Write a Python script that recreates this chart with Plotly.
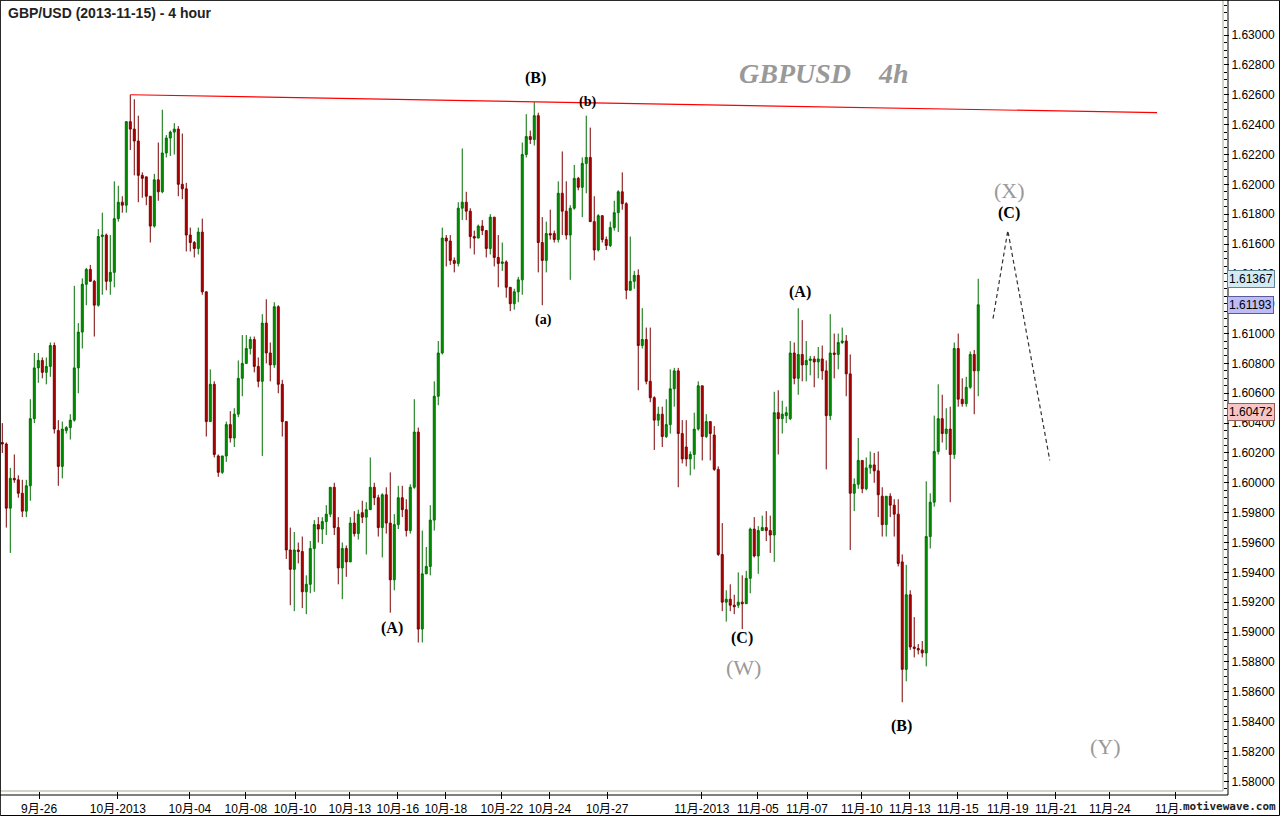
import plotly.graph_objects as go

# ---------------- data ----------------
opens = [
 1.6027,1.6026,1.5983,1.6003,1.6002,1.5993,1.5981,1.5998,1.6043,1.6077,
 1.6082,1.6074,1.6078,1.6092,1.6035,1.6011,1.6035,1.6037,1.6042,1.6077,
 1.6101,1.6133,1.6143,1.6135,1.6119,1.6165,1.6166,1.6135,1.6141,1.6177,
 1.6188,1.6186,1.6242,1.6237,1.6229,1.6206,1.6205,1.6192,1.6172,1.6203,
 1.6195,1.6221,1.6231,1.6235,1.6237,1.6200,1.6197,1.6166,1.6161,1.6157,
 1.6168,1.6128,1.6041,1.6066,1.6018,1.6007,1.6018,1.6039,1.6030,1.6046,
 1.6070,1.6080,1.6090,1.6096,1.6078,1.6068,1.6107,1.6087,1.6079,1.6118,
 1.6066,1.6041,1.5955,1.5942,1.5955,1.5954,1.5927,1.5932,1.5956,1.5972,
 1.5969,1.5974,1.5979,1.5997,1.5970,1.5943,1.5956,1.5947,1.5973,1.5966,
 1.5980,1.5977,1.5982,1.5997,1.5990,1.5970,1.5992,1.5973,1.5935,1.5972,
 1.5990,1.5982,1.5968,1.5997,1.6034,1.5902,1.5939,1.5944,1.5975,1.6058,
 1.6087,1.6164,1.6162,1.6149,1.6147,1.6184,1.6188,1.6182,1.6165,1.6164,
 1.6172,1.6169,1.6157,1.6178,1.6151,1.6147,1.6148,1.6131,1.6120,1.6128,
 1.6136,1.6220,1.6232,1.6230,1.6246,1.6161,1.6149,1.6167,1.6167,1.6163,
 1.6194,1.6182,1.6166,1.6184,1.6204,1.6198,1.6214,1.6218,1.6175,1.6156,
 1.6179,1.6163,1.6159,1.6171,1.6181,1.6195,1.6187,1.6129,1.6135,1.6139,
 1.6092,1.6096,1.6068,1.6057,1.6042,1.6046,1.6031,1.6039,1.6063,1.6075,
 1.6033,1.6024,1.6016,1.6019,1.6036,1.6065,1.6031,1.6041,1.6032,1.6009,
 1.5952,1.5920,1.5922,1.5918,1.5918,1.5920,1.5919,1.5936,1.5969,1.5951,
 1.5968,1.5970,1.5968,1.5965,1.6047,1.6043,1.6045,1.6043,1.6087,1.6070,
 1.6086,1.6079,1.6082,1.6083,1.6081,1.6083,1.6075,1.6045,1.6087,1.6086,
 1.6094,1.6095,1.6073,1.5993,1.5999,1.6015,1.5996,1.6010,1.6012,1.6008,
 1.5991,1.5972,1.5991,1.5985,1.5979,1.5947,1.5875,1.5925,1.5890,1.5889,
 1.5888,1.5886,1.5964,1.5987,1.6021,1.6043,1.6033,1.6036,1.6019,1.6090,
 1.6056,1.6053,1.6064,1.6086,1.6075]
highs = [
 1.6040,1.6027,1.6010,1.6019,1.6005,1.6002,1.6002,1.6056,1.6087,1.6087,
 1.6084,1.6084,1.6094,1.6094,1.6042,1.6041,1.6038,1.6046,1.6132,1.6107,
 1.6137,1.6144,1.6146,1.6136,1.6170,1.6181,1.6167,1.6166,1.6202,1.6199,
 1.6192,1.6242,1.6260,1.6257,1.6246,1.6208,1.6205,1.6192,1.6207,1.6228,
 1.6250,1.6233,1.6236,1.6241,1.6239,1.6234,1.6201,1.6171,1.6162,1.6171,
 1.6177,1.6128,1.6076,1.6068,1.6019,1.6018,1.6041,1.6048,1.6050,1.6082,
 1.6099,1.6099,1.6098,1.6098,1.6084,1.6113,1.6123,1.6094,1.6121,1.6119,
 1.6069,1.6041,1.5970,1.5967,1.5960,1.5964,1.5938,1.5961,1.5975,1.5977,
 1.5977,1.5985,1.5997,1.6000,1.5977,1.5960,1.5958,1.5977,1.5981,1.5982,
 1.5988,1.5987,1.6017,1.6000,1.5992,1.5993,1.5997,1.6007,1.5979,1.5998,
 1.5998,1.5989,1.5999,1.6056,1.6037,1.5968,1.5957,1.5985,1.6068,1.6095,
 1.6171,1.6166,1.6166,1.6151,1.6188,1.6224,1.6195,1.6184,1.6169,1.6173,
 1.6176,1.6169,1.6180,1.6178,1.6166,1.6161,1.6149,1.6131,1.6130,1.6138,
 1.6228,1.6247,1.6236,1.6255,1.6248,1.6178,1.6175,1.6183,1.6169,1.6202,
 1.6222,1.6202,1.6186,1.6213,1.6205,1.6218,1.6246,1.6238,1.6192,1.6180,
 1.6179,1.6165,1.6175,1.6189,1.6196,1.6208,1.6188,1.6165,1.6142,1.6143,
 1.6117,1.6104,1.6104,1.6058,1.6051,1.6051,1.6056,1.6076,1.6077,1.6077,
 1.6042,1.6042,1.6021,1.6047,1.6068,1.6065,1.6046,1.6041,1.6038,1.6011,
 1.5973,1.5928,1.5932,1.5925,1.5940,1.5938,1.5941,1.5970,1.5977,1.5971,
 1.5978,1.5981,1.5978,1.6061,1.6062,1.6055,1.6051,1.6095,1.6094,1.6117,
 1.6109,1.6095,1.6085,1.6085,1.6091,1.6092,1.6082,1.6113,1.6100,1.6100,
 1.6104,1.6099,1.6086,1.6003,1.6030,1.6015,1.6017,1.6021,1.6020,1.6021,
 1.5997,1.5991,1.5993,1.5989,1.5989,1.5952,1.5945,1.5928,1.5910,1.5892,
 1.5894,1.6001,1.5993,1.6045,1.6066,1.6059,1.6050,1.6051,1.6094,1.6100,
 1.6070,1.6071,1.6088,1.6089,1.61367]
lows = [
 1.6020,1.5970,1.5953,1.6000,1.5990,1.5977,1.5977,1.5988,1.6040,1.6067,
 1.6070,1.6066,1.6071,1.6033,1.5998,1.6003,1.6033,1.6029,1.6041,1.6060,
 1.6090,1.6119,1.6135,1.6098,1.6118,1.6126,1.6129,1.6126,1.6131,1.6175,
 1.6181,1.6181,1.6223,1.6206,1.6188,1.6191,1.6186,1.6161,1.6171,1.6189,
 1.6194,1.6218,1.6219,1.6220,1.6192,1.6190,1.6155,1.6155,1.6151,1.6153,
 1.6126,1.6031,1.6041,1.6017,1.6004,1.6006,1.6014,1.6027,1.6024,1.6044,
 1.6058,1.6080,1.6086,1.6074,1.6064,1.6018,1.6080,1.6068,1.6077,1.6060,
 1.6031,1.5949,1.5918,1.5914,1.5946,1.5916,1.5912,1.5926,1.5927,1.5960,
 1.5959,1.5965,1.5977,1.5965,1.5932,1.5922,1.5937,1.5947,1.5964,1.5962,
 1.5973,1.5952,1.5982,1.5985,1.5964,1.5950,1.5966,1.5913,1.5928,1.5969,
 1.5977,1.5964,1.5966,1.5996,1.5893,1.5893,1.5939,1.5938,1.5968,1.6052,
 1.6086,1.6145,1.6146,1.6141,1.6145,1.6176,1.6176,1.6157,1.6153,1.6164,
 1.6166,1.6151,1.6153,1.6145,1.6131,1.6142,1.6124,1.6115,1.6116,1.6121,
 1.6126,1.6218,1.6227,1.6226,1.6141,1.6119,1.6141,1.6163,1.6161,1.6161,
 1.6166,1.6163,1.6136,1.6183,1.6196,1.6178,1.6194,1.6175,1.6149,1.6155,
 1.6161,1.6156,1.6158,1.6169,1.6168,1.6183,1.6123,1.6129,1.6130,1.6062,
 1.6090,1.6066,1.6054,1.6022,1.6038,1.6024,1.6030,1.6033,1.6051,1.5997,
 1.6013,1.6011,1.6005,1.6009,1.6035,1.6015,1.6030,1.6015,1.6008,1.5951,
 1.5914,1.5907,1.5914,1.5912,1.5916,1.5902,1.5919,1.5926,1.5950,1.5939,
 1.5968,1.5961,1.5953,1.5947,1.6019,1.6033,1.6040,1.6042,1.6066,1.6059,
 1.6068,1.6068,1.6072,1.6064,1.6070,1.6069,1.6009,1.6042,1.6070,1.6076,
 1.6093,1.6058,1.5955,1.5981,1.5996,1.5993,1.5995,1.6006,1.6000,1.5977,
 1.5964,1.5964,1.5977,1.5964,1.5944,1.5853,1.5867,1.5888,1.5883,1.5885,
 1.5883,1.5877,1.5956,1.5984,1.6019,1.6027,1.6022,1.5987,1.6016,1.6051,
 1.6051,1.6051,1.6063,1.6046,1.6058]
closes = [
 1.6026,1.5983,1.6003,1.6002,1.5993,1.5981,1.5998,1.6043,1.6077,1.6082,
 1.6074,1.6078,1.6092,1.6036,1.6011,1.6036,1.6037,1.6042,1.6077,1.6101,
 1.6133,1.6143,1.6135,1.6119,1.6165,1.6166,1.6135,1.6141,1.6177,1.6188,
 1.6186,1.6242,1.6237,1.6229,1.6206,1.6204,1.6192,1.6172,1.6203,1.6195,
 1.6221,1.6231,1.6235,1.6237,1.6200,1.6197,1.6166,1.6161,1.6157,1.6168,
 1.6128,1.6041,1.6066,1.6019,1.6007,1.6018,1.6039,1.6030,1.6046,1.6070,
 1.6080,1.6090,1.6096,1.6078,1.6068,1.6107,1.6087,1.6079,1.6118,1.6066,
 1.6041,1.5955,1.5942,1.5955,1.5954,1.5927,1.5932,1.5956,1.5972,1.5969,
 1.5974,1.5979,1.5997,1.5970,1.5943,1.5956,1.5947,1.5973,1.5966,1.5979,
 1.5977,1.5982,1.5997,1.5990,1.5970,1.5992,1.5973,1.5935,1.5972,1.5990,
 1.5982,1.5968,1.5997,1.6034,1.5902,1.5939,1.5944,1.5975,1.6058,1.6087,
 1.6164,1.6162,1.6149,1.6147,1.6184,1.6188,1.6182,1.6165,1.6164,1.6172,
 1.6169,1.6157,1.6178,1.6151,1.6147,1.6148,1.6131,1.6120,1.6128,1.6136,
 1.6220,1.6232,1.6230,1.6246,1.6161,1.6149,1.6167,1.6166,1.6163,1.6194,
 1.6182,1.6166,1.6184,1.6204,1.6198,1.6214,1.6218,1.6175,1.6156,1.6179,
 1.6163,1.6159,1.6171,1.6181,1.6195,1.6187,1.6129,1.6135,1.6139,1.6092,
 1.6096,1.6068,1.6057,1.6042,1.6046,1.6031,1.6039,1.6063,1.6075,1.6033,
 1.6016,1.6016,1.6019,1.6036,1.6065,1.6031,1.6041,1.6033,1.6009,1.5952,
 1.5920,1.5922,1.5918,1.5917,1.5920,1.5919,1.5936,1.5969,1.5951,1.5968,
 1.5970,1.5968,1.5965,1.6047,1.6043,1.6046,1.6047,1.6087,1.6070,1.6086,
 1.6079,1.6082,1.6083,1.6081,1.6083,1.6075,1.6045,1.6087,1.6086,1.6094,
 1.6095,1.6073,1.5993,1.5999,1.6015,1.5996,1.6010,1.6012,1.6008,1.5992,
 1.5972,1.5991,1.5985,1.5979,1.5946,1.5875,1.5925,1.5890,1.5889,1.5888,
 1.5886,1.5964,1.5987,1.6021,1.6043,1.6033,1.6036,1.6019,1.6090,1.6056,
 1.6053,1.6064,1.6086,1.6075,1.61193]
bars = list(range(len(closes)))

# time axis (bar index of each date label)
date_ticks = [9.2, 28.9, 46.9, 60.9, 73.2, 86.9, 98.9, 110.9, 124.9, 136.9, 151.2,
              174.9, 188.9, 201.2, 214.9, 226.9, 238.9, 251.4, 263.4, 276.9, 293.4]
date_labels = ["9月-26", "10月-2013", "10月-04", "10月-08", "10月-10", "10月-13",
               "10月-16", "10月-18", "10月-22", "10月-24", "10月-27", "11月-2013",
               "11月-05", "11月-07", "11月-10", "11月-13", "11月-15", "11月-19",
               "11月-21", "11月-24", "11月-28"]
price_ticks = [1.580, 1.582, 1.584, 1.586, 1.588, 1.590, 1.592, 1.594, 1.596, 1.598,
               1.600, 1.602, 1.604, 1.606, 1.608, 1.610, 1.612, 1.614, 1.616, 1.618,
               1.620, 1.622, 1.624, 1.626, 1.628, 1.630]

# resistance line and projected path
trend_x = [32, 288.7]
trend_y = [1.6260, 1.6248]
proj_x = [247.7, 251.4, 261.9]
proj_y = [1.6110, 1.6169, 1.6015]

# wave labels
black_labels = ["(B)", "(b)", "(a)", "(A)", "(C)", "(A)", "(B)", "(C)"]
black_x = [133.4, 146.2, 135.2, 97.4, 184.9, 199.4, 224.9, 251.7]
black_y = [1.6271, 1.6255, 1.6109, 1.5903, 1.5896, 1.6128, 1.5837, 1.6181]
black_size = [16, 14, 14, 16, 16, 16, 16, 16]
gray_labels = ["(W)", "(X)", "(Y)"]
gray_x = [185.2, 251.9, 275.7]
gray_y = [1.5876, 1.6196, 1.5823]

# price tags on the axis
tag_values = [1.61367, 1.61193, 1.60472]
tag_fill = ["#d2eaf4", "#bcbcf6", "#f6c6c6"]
tag_edge = ["#5f8796", "#5a5a9a", "#9a5a5a"]

# ---------------- figure ----------------
PW, PH = 1223, 791
fig = go.Figure()
fig.add_trace(go.Candlestick(
    x=bars, open=opens, high=highs, low=lows, close=closes,
    increasing=dict(line=dict(color="#006e00", width=1), fillcolor="#009400"),
    decreasing=dict(line=dict(color="#7a0000", width=1), fillcolor="#b40000"),
    whiskerwidth=0, showlegend=False, hoverinfo="skip"))
fig.add_trace(go.Scatter(x=trend_x, y=trend_y, mode="lines",
                         line=dict(color="#ff0000", width=1.2),
                         showlegend=False, hoverinfo="skip"))
fig.add_trace(go.Scatter(x=proj_x, y=proj_y, mode="lines",
                         line=dict(color="#333333", width=1.2, dash="4px,3px"),
                         showlegend=False, hoverinfo="skip"))

serif = "Liberation Serif, DejaVu Serif, serif"
ann = []
for t, x, y, s in zip(black_labels, black_x, black_y, black_size):
    ann.append(dict(x=x, y=y, xref="x", yref="y", text="<b>" + t + "</b>",
                    showarrow=False, font=dict(family=serif, size=s, color="#000000")))
for t, x, y in zip(gray_labels, gray_x, gray_y):
    ann.append(dict(x=x, y=y, xref="x", yref="y", text=t, showarrow=False,
                    font=dict(family=serif, size=22, color="#999999")))
ann.append(dict(x=205.5, y=1.6274, xref="x", yref="y",
                text="<b><i>GBPUSD    4h</i></b>", showarrow=False,
                font=dict(family=serif, size=28, color="#999999")))
ann.append(dict(x=0, y=1, xref="paper", yref="paper", xanchor="left", yanchor="top",
                xshift=6, yshift=-3, text="<b>GBP/USD (2013-11-15) - 4 hour</b>",
                showarrow=False, font=dict(family="Liberation Sans, Arial", size=14, color="#222222")))
for v, fc, ec in zip(tag_values, tag_fill, tag_edge):
    ann.append(dict(x=1, y=v, xref="paper", yref="y", xanchor="left", yanchor="middle",
                    xshift=4, text=f"{v:.5f}", showarrow=False, bgcolor=fc, bordercolor=ec,
                    borderwidth=1, borderpad=1,
                    font=dict(family="Liberation Sans, Arial", size=12, color="#000000")))
ann.append(dict(x=1, y=0, xref="paper", yref="paper", xanchor="right", yanchor="top",
                xshift=55, yshift=-7, text="<b>motivewave.com</b>", showarrow=False,
                bgcolor="#ffffff",
                font=dict(family="DejaVu Sans Mono, monospace", size=11, color="#222222")))

shapes = [
    # plot frame (grey)
    dict(type="rect", xref="paper", yref="paper", x0=0, x1=1, y0=0, y1=1,
         line=dict(color="#a8a89a", width=1)),
    # black axis lines
    dict(type="line", xref="paper", yref="paper", x0=1 + 5 / PW, x1=1 + 5 / PW,
         y0=-4 / PH, y1=1, line=dict(color="#000000", width=1)),
    dict(type="line", xref="paper", yref="paper", x0=0, x1=1 + 5 / PW,
         y0=-4 / PH, y1=-4 / PH, line=dict(color="#000000", width=1)),
    # outer frame
    dict(type="rect", xref="paper", yref="paper", x0=0.3 / PW, x1=1 + 56.5 / PW,
         y0=-24.5 / PH, y1=1 - 0.3 / PH, line=dict(color="#000000", width=1)),
]

tickfont = dict(family="Liberation Sans, Noto Sans CJK SC, Arial", size=12, color="#000000")
fig.update_layout(
    width=1280, height=816, margin=dict(l=0, r=57, t=0, b=25),
    paper_bgcolor="#ffffff", plot_bgcolor="#ffffff",
    annotations=ann, shapes=shapes, showlegend=False,
    xaxis=dict(range=[-0.575, 305.2], tickvals=date_ticks, ticktext=date_labels,
               ticks="outside", ticklen=7, tickcolor="#000000", showgrid=False,
               zeroline=False, showline=False, rangeslider=dict(visible=False),
               tickfont=tickfont, fixedrange=True),
    yaxis=dict(side="right", range=[1.57935, 1.63235], tickvals=price_ticks,
               tickformat=".5f", ticks="outside", ticklen=5, tickcolor="#000000",
               showgrid=False, zeroline=False, showline=False, tickfont=tickfont,
               minor=dict(dtick=0.0005, ticks="outside", ticklen=3, tickcolor="#000000"),
               fixedrange=True),
)

fig.write_html("out.html", config={"displayModeBar": False},
               post_script="document.body.style.margin='0';")
